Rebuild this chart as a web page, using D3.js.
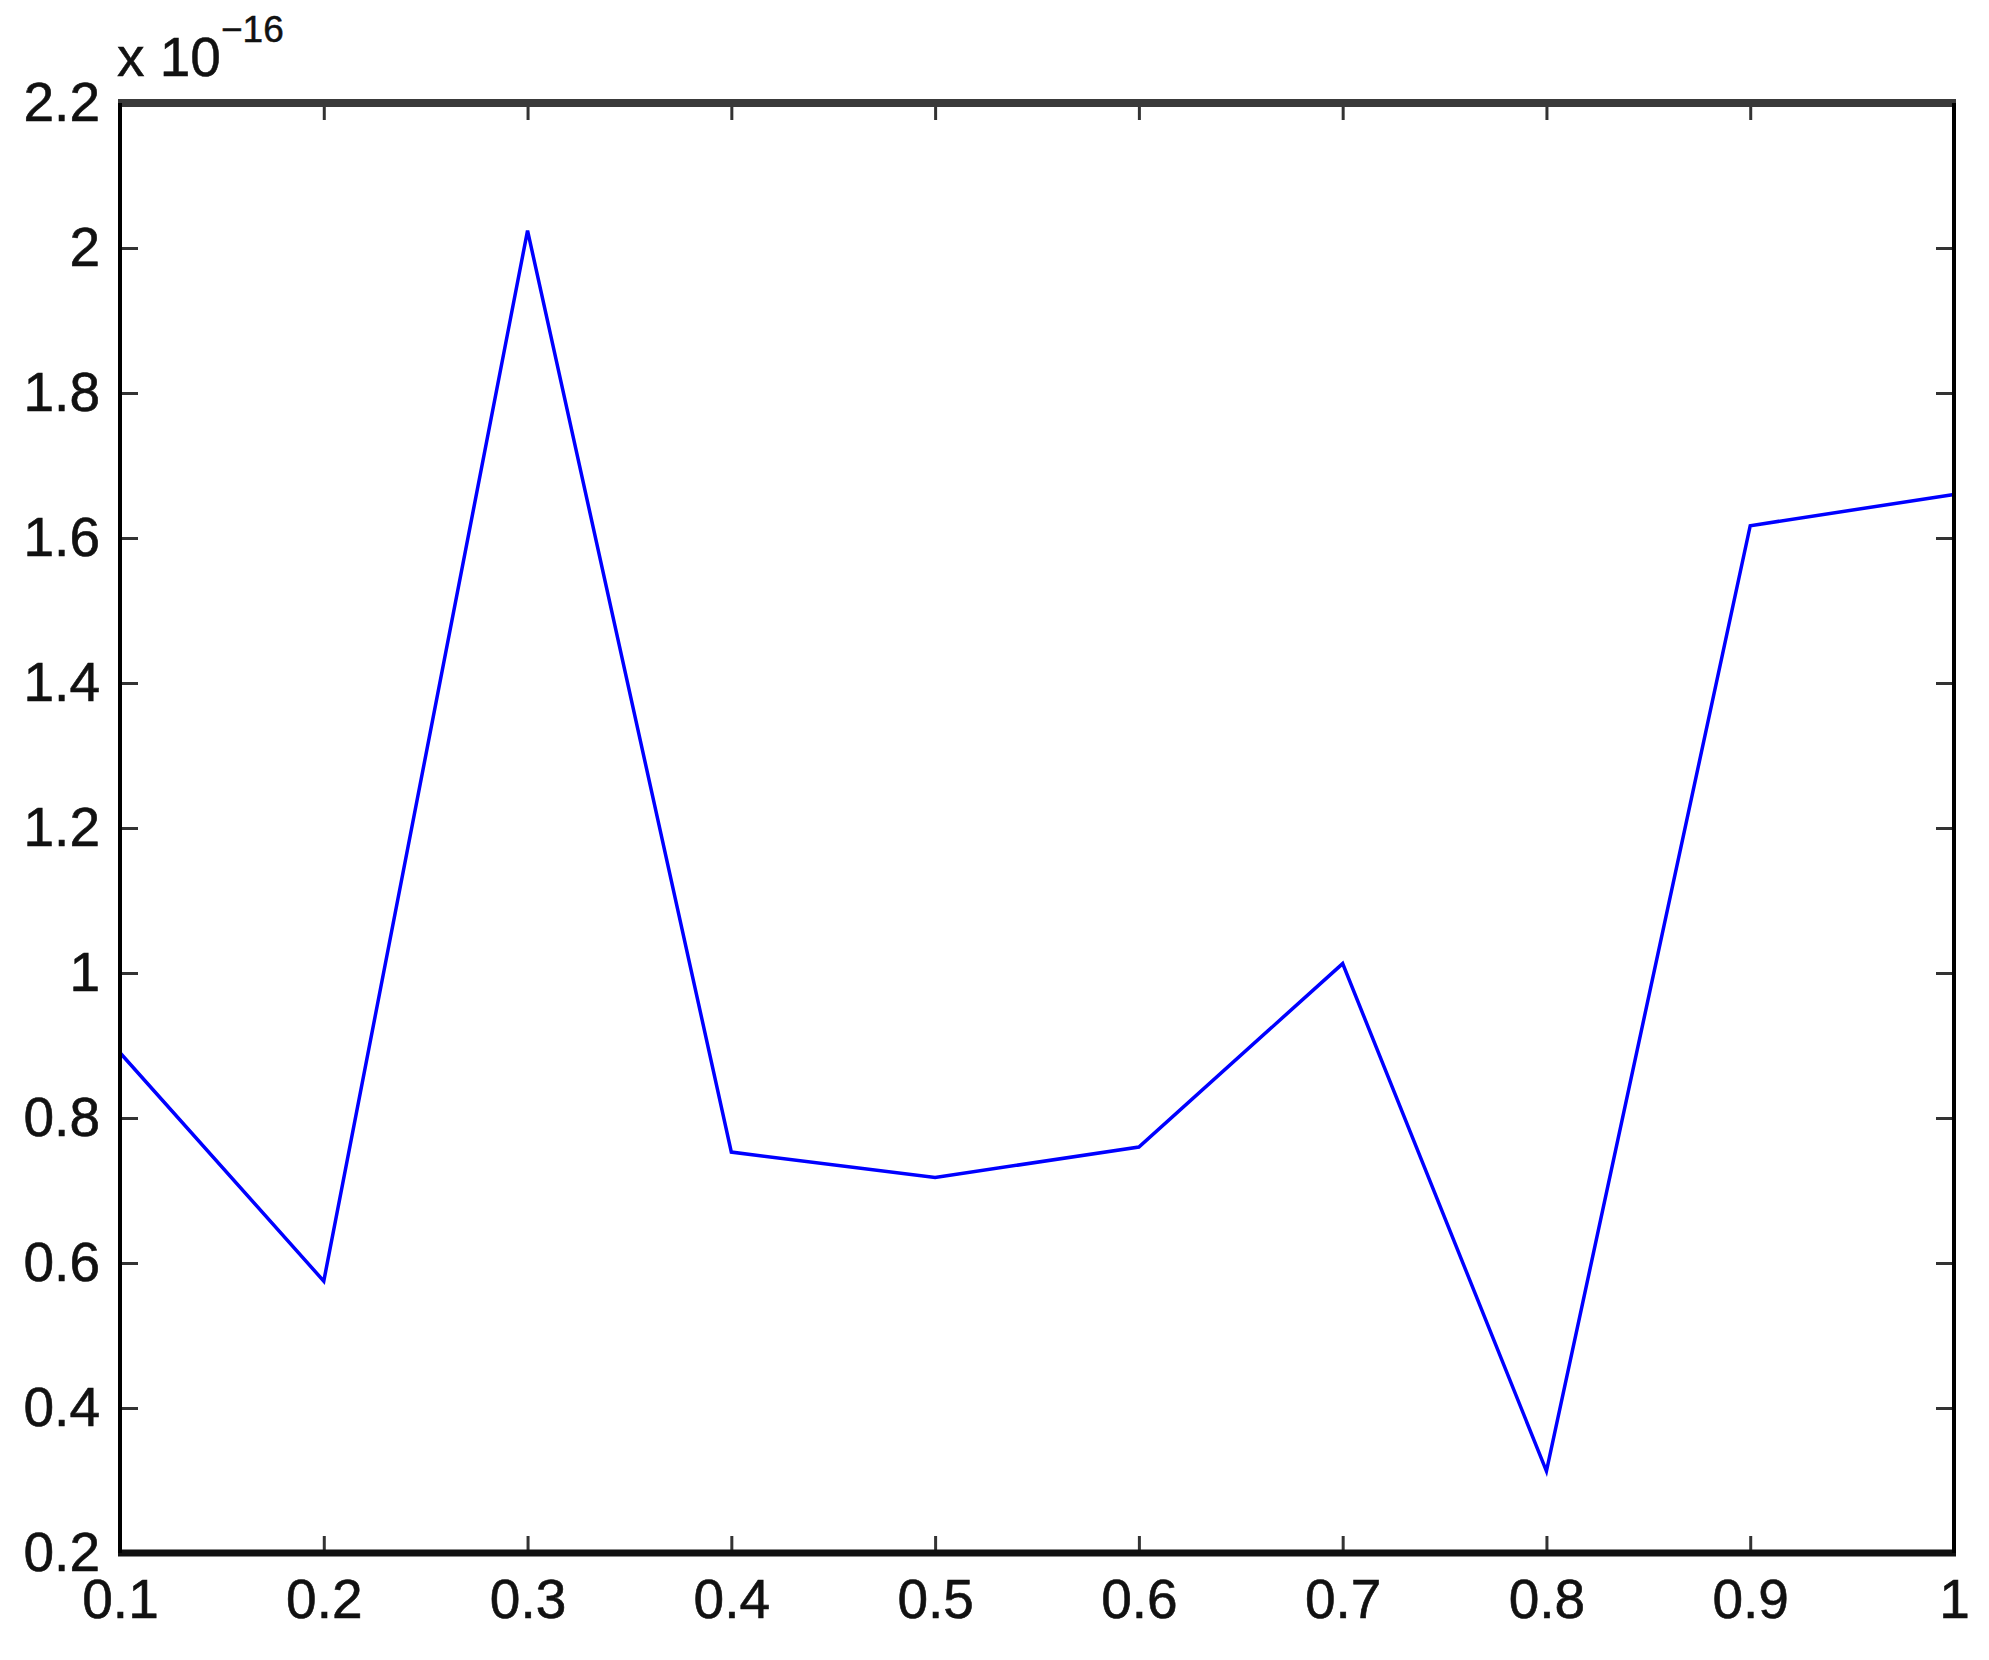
<!DOCTYPE html>
<html>
<head>
<meta charset="utf-8">
<script src="https://cdn.jsdelivr.net/npm/d3@7"></script>
<style>
  body { margin: 0; background: #fff; }
  svg text { font-family: "Liberation Sans", Arial, sans-serif; fill: #111; }
</style>
</head>
<body>
<script>
// data (values in units of 1e-16)
var xValues = [0.1, 0.2, 0.3, 0.4, 0.5, 0.6, 0.7, 0.8, 0.9, 1.0];
var yValues = [0.890, 0.575, 2.024, 0.753, 0.718, 0.760, 1.013, 0.313, 1.617, 1.660];
var xTicks = [0.1, 0.2, 0.3, 0.4, 0.5, 0.6, 0.7, 0.8, 0.9, 1];
var xTickLabels = ["0.1", "0.2", "0.3", "0.4", "0.5", "0.6", "0.7", "0.8", "0.9", "1"];
var yTicks = [0.2, 0.4, 0.6, 0.8, 1, 1.2, 1.4, 1.6, 1.8, 2, 2.2];
var yTickLabels = ["0.2", "0.4", "0.6", "0.8", "1", "1.2", "1.4", "1.6", "1.8", "2", "2.2"];

function drawChart() {
  var W = 1989, H = 1660;
  var left = 120, right = 1954, top = 103, bottom = 1553;

  var svg = d3.select("body").append("svg")
    .attr("width", W)
    .attr("height", H);

  var x = d3.scaleLinear().domain([0.1, 1]).range([left, right]);
  var y = d3.scaleLinear().domain([0.2, 2.2]).range([bottom, top]);

  //line first, axes on top
  var line = d3.line()
    .x(function (d, i) { return x(xValues[i]); })
    .y(function (d) { return y(d); });

  svg.append("path")
    .datum(yValues)
    .attr("d", line)
    .attr("fill", "none")
    .attr("stroke", "#0000ff")
    .attr("stroke-width", 3.5)
    .attr("stroke-linejoin", "miter");

  function fmt(ticks, labels) {
    return function (d) {
      var i = ticks.indexOf(d);
      return i >= 0 ? labels[i] : "";
    };
  }

  //left axis with labels
  var gl = svg.append("g")
    .attr("transform", "translate(" + left + ",0)")
    .call(d3.axisLeft(y).tickValues(yTicks).tickFormat(fmt(yTicks, yTickLabels))
      .tickSizeInner(-18).tickSizeOuter(0).tickPadding(20));

  //bottom axis with labels
  var gb = svg.append("g")
    .attr("transform", "translate(0," + bottom + ")")
    .call(d3.axisBottom(x).tickValues(xTicks).tickFormat(fmt(xTicks, xTickLabels))
      .tickSizeInner(-17).tickSizeOuter(0).tickPadding(26));

  //mirrored ticks on top and right
  var gt = svg.append("g")
    .attr("transform", "translate(0," + top + ")")
    .call(d3.axisTop(x).tickValues(xTicks).tickFormat("").tickSizeInner(-17).tickSizeOuter(0));

  var gr = svg.append("g")
    .attr("transform", "translate(" + right + ",0)")
    .call(d3.axisRight(y).tickValues(yTicks).tickFormat("").tickSizeInner(-18).tickSizeOuter(0));

  [gl, gb, gt, gr].forEach(function (g) {
    g.select(".domain").remove();
    g.selectAll(".tick line").attr("stroke", "#333").attr("stroke-width", 3);
    g.selectAll(".tick text")
      .attr("font-size", 55)
      .attr("font-family", "Liberation Sans, Arial, sans-serif")
      .attr("fill", "#111")
      .attr("stroke", "#111")
      .attr("stroke-width", 0.6);
  });

  //box around the plot
  svg.append("line")
    .attr("x1", left - 2).attr("x2", right + 2)
    .attr("y1", top).attr("y2", top)
    .attr("stroke", "#3a3a3a").attr("stroke-width", 8);
  svg.append("line")
    .attr("x1", left - 2).attr("x2", right + 2)
    .attr("y1", bottom).attr("y2", bottom)
    .attr("stroke", "#111").attr("stroke-width", 7);
  svg.append("line")
    .attr("x1", left).attr("x2", left)
    .attr("y1", top).attr("y2", bottom)
    .attr("stroke", "#000").attr("stroke-width", 4);
  svg.append("line")
    .attr("x1", right).attr("x2", right)
    .attr("y1", top).attr("y2", bottom)
    .attr("stroke", "#000").attr("stroke-width", 4);

  //exponent label
  var ex = svg.append("text")
    .attr("x", 117)
    .attr("y", 76)
    .attr("font-size", 55)
    .attr("stroke", "#111")
    .attr("stroke-width", 0.5);
  ex.append("tspan").text("x 10");
  ex.append("tspan")
    .attr("dy", -34)
    .attr("font-size", 37)
    .text("\u221216");
}

drawChart();
</script>
</body>
</html>
